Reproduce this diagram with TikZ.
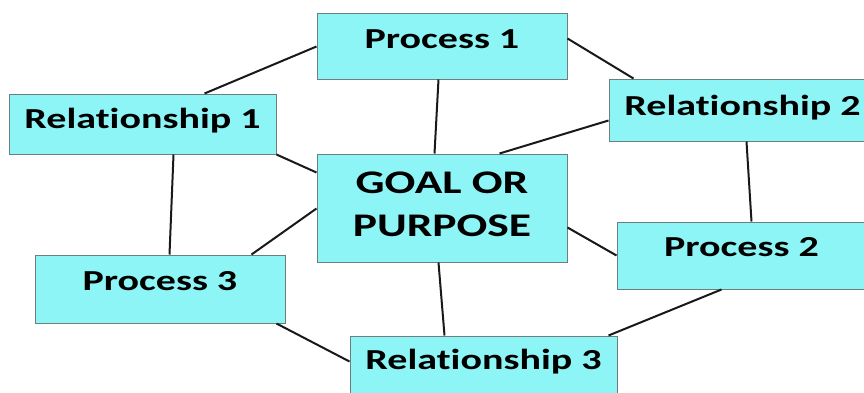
\documentclass[tikz,border=0pt]{standalone}
\usepackage{fontspec}
\setmainfont{Carlito}[FakeStretch=1.38, Ligatures=NoCommon]
\definecolor{boxfill}{RGB}{142,245,246}
\definecolor{boxline}{RGB}{110,125,125}
\definecolor{conn}{RGB}{25,25,25}
\tikzset{
  bx/.style={draw=boxline, line width=1pt, fill=boxfill, rectangle, inner sep=0pt,
    font=\fontsize{29}{35}\selectfont\bfseries, text height=20pt, text depth=#1},
  link/.style={draw=conn, line width=2pt}
}
\begin{document}
\begin{tikzpicture}[x=1pt,y=-1pt]
\useasboundingbox (0,0) rectangle (864,392);
\clip (0,0) rectangle (864,392);
\node[bx=16pt, minimum width=250pt, minimum height=66pt] (p1) at (442,46) {Process 1};
\node[bx=12pt, minimum width=267pt, minimum height=60pt] (r1) at (142.5,124) {Relationship 1};
\node[bx=10pt, minimum width=267pt, minimum height=62pt] (r2) at (742.5,110) {Relationship 2};
\node[bx=19pt, minimum width=249pt, minimum height=67pt] (p2) at (741.5,255.5) {Process 2};
\node[bx=18pt, minimum width=250pt, minimum height=68pt] (p3) at (160,289) {Process 3};
\node[bx=14pt, minimum width=267pt, minimum height=60pt] (r3) at (483.5,366) {Relationship 3};
\node[draw=boxline, line width=1pt, fill=boxfill, rectangle, inner sep=0pt,
  minimum width=250pt, minimum height=108pt, align=center, text depth=8pt,
  font=\fontsize{33}{43}\selectfont\bfseries] (g) at (442,208) {GOAL OR\\PURPOSE};
% connectors
\draw[link] ([shift={(0,34)}]p1.north west) -- ([shift={(196,0)}]r1.north west);
\draw[link] ([shift={(0,26)}]p1.north east) -- ([shift={(25,0)}]r2.north west);
\draw[link] ([shift={(122,0)}]p1.south west) -- ([shift={(118,0)}]g.north west);
\draw[link] (r1.south east) -- ([shift={(0,19)}]g.north west);
\draw[link] ([shift={(165,0)}]r1.south west) -- ([shift={(135,0)}]p3.north west);
\draw[link] ([shift={(0,42)}]r2.north west) -- ([shift={(183,0)}]g.north west);
\draw[link] ([shift={(138,0)}]r2.south west) -- ([shift={(135,0)}]p2.north west);
\draw[link] ([shift={(0,55)}]g.north west) -- ([shift={(217,0)}]p3.north west);
\draw[link] ([shift={(0,74)}]g.north east) -- ([shift={(0,34)}]p2.north west);
\draw[link] ([shift={(122,0)}]g.south west) -- ([shift={(95,0)}]r3.north west);
\draw[link] ([shift={(242,0)}]p3.south west) -- ([shift={(0,26)}]r3.north west);
\draw[link] ([shift={(105,0)}]p2.south west) -- ([shift={(259,0)}]r3.north west);
\end{tikzpicture}
\end{document}
